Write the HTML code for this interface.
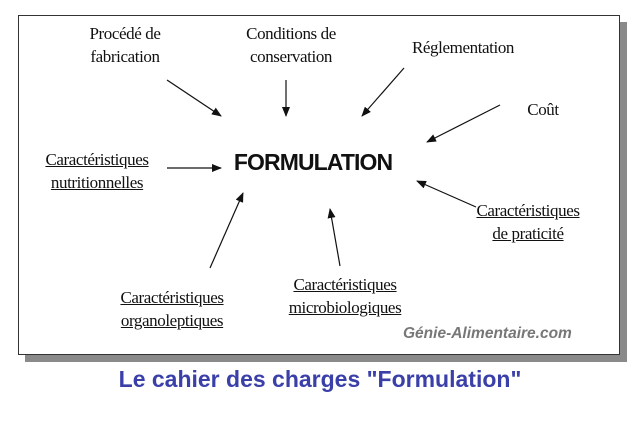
<!DOCTYPE html>
<html><head><meta charset="utf-8"><style>
body{margin:0;width:640px;height:422px;background:#fff;position:relative;overflow:hidden;font-family:"Liberation Serif",serif;}
.shadow{position:absolute;left:25px;top:22px;width:602px;height:340px;background:#8a8a8a;}
.box{position:absolute;left:18px;top:15px;width:600px;height:338px;background:#fff;border:1px solid #333;}
.t{position:absolute;font-size:17px;line-height:23px;text-align:center;color:#111;letter-spacing:-0.4px;white-space:nowrap;transform:translateX(-50%);}
.u{text-decoration:underline;}
.f{position:absolute;left:313px;top:149px;transform:translateX(-50%);font-family:"Liberation Sans",sans-serif;font-weight:bold;font-size:23px;letter-spacing:-0.9px;color:#111;}
.w{position:absolute;left:403px;top:325px;font-family:"Liberation Sans",sans-serif;font-style:italic;font-weight:bold;font-size:15.5px;color:#777;}
.title{position:absolute;left:0;width:640px;top:366px;text-align:center;font-family:"Liberation Sans",sans-serif;font-weight:bold;font-size:23px;color:#3a40a8;}
svg{position:absolute;left:0;top:0;}
</style></head><body>
<div class="shadow"></div><div class="box"></div>
<div class="t" style="left:125px;top:22px">Procédé de<br>fabrication</div>
<div class="t" style="left:291px;top:22px">Conditions de<br>conservation</div>
<div class="t" style="left:463px;top:36px">Réglementation</div>
<div class="t" style="left:543px;top:98px">Coût</div>
<div class="t u" style="left:97px;top:148px">Caractéristiques<br>nutritionnelles</div>
<div class="t u" style="left:528px;top:199px">Caractéristiques<br>de praticité</div>
<div class="t u" style="left:345px;top:273px">Caractéristiques<br>microbiologiques</div>
<div class="t u" style="left:172px;top:286px">Caractéristiques<br>organoleptiques</div>
<div class="f">FORMULATION</div>
<div class="w">Génie-Alimentaire.com</div>
<div class="title">Le cahier des charges "Formulation"</div>
<svg width="640" height="422"><defs><marker id="a" markerWidth="10" markerHeight="8" refX="9" refY="4" orient="auto" markerUnits="userSpaceOnUse"><path d="M0,0L10,4L0,8z" fill="#111"/></marker></defs>
<g stroke="#111" stroke-width="1.2" marker-end="url(#a)">
<line x1="167" y1="80" x2="221" y2="116"/>
<line x1="286" y1="80" x2="286" y2="116"/>
<line x1="404" y1="68" x2="362" y2="116"/>
<line x1="500" y1="105" x2="427" y2="142"/>
<line x1="167" y1="168" x2="221" y2="168"/>
<line x1="476" y1="207" x2="417" y2="181"/>
<line x1="210" y1="268" x2="243" y2="193"/>
<line x1="340" y1="266" x2="330" y2="209"/>
</g></svg>
</body></html>
